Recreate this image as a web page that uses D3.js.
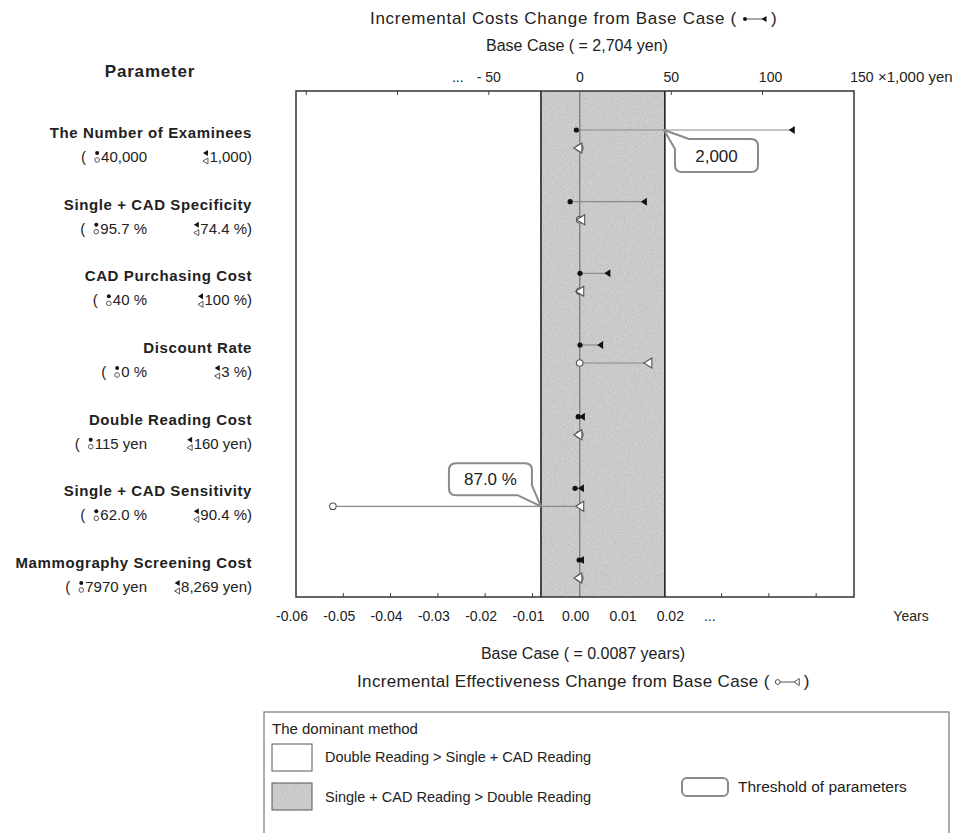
<!DOCTYPE html>
<html><head><meta charset="utf-8">
<script src="https://cdn.jsdelivr.net/npm/d3@7"></script>
<style>
body{margin:0;background:#fff;}
svg text{font-family:"Liberation Sans",Arial,sans-serif;fill:#222;}
</style></head>
<body><svg id="c" width="968" height="833"></svg>
<script>
// ---------- data ----------
const params = ["The Number of Examinees","Single + CAD Specificity","CAD Purchasing Cost","Discount Rate","Double Reading Cost","Single + CAD Sensitivity","Mammography Screening Cost"];
const lowLabels = ["40,000","95.7 %","40 %","0 %","115 yen","62.0 %","7970 yen"];
const highLabels = ["1,000)","74.4 %)","100 %)","3 %)","160 yen)","90.4 %)","8,269 yen)"];
// incremental cost change (x1,000 yen): low value (filled dot) / high value (filled triangle)
const costLow  = [-2, -5.4, 0, 0, -1, -2.7, -0.5];
const costHigh = [116, 35, 15, 11, 1, 0.5, 0.5];
// incremental effectiveness change (years): low value (open circle) / high value (open triangle)
const effLow  = [0, 0, 0, 0, 0, -0.0522, 0];
const effHigh = [-0.0004, 0.0002, 0, 0.0144, -0.0004, 0, -0.0004];
// dominance band (years) and threshold callouts
const bandRange = [-0.0082, 0.0180];
const costThreshold = {row:0, value:46, label:"2,000"};
const effThreshold = {row:5, value:-0.0082, label:"87.0 %"};
const effTicks = [-0.05,-0.04,-0.03,-0.02,-0.01,0.03,0.04,0.05];
const effTickLabels = [-0.06,-0.05,-0.04,-0.03,-0.02,-0.01,0.00,0.01,0.02];
const costTicks = [-150,-100,-50,50,100];
const costTickLabels = [-50,0,50,100,150];

// ---------- layout ----------
const svg = d3.select("#c");
const defs = svg.append("defs");
const flt = defs.append("filter").attr("id","noise").attr("x",0).attr("y",0).attr("width","100%").attr("height","100%");
flt.append("feTurbulence").attr("type","fractalNoise").attr("baseFrequency",1.1).attr("numOctaves",1).attr("seed",3).attr("result","n");
flt.append("feColorMatrix").attr("in","n").attr("type","matrix").attr("values","0 0 0 0 0.45  0 0 0 0 0.45  0 0 0 0 0.45  1.6 0 0 0 -0.6").attr("result","m");
flt.append("feComposite").attr("in","m").attr("in2","SourceGraphic").attr("operator","in");

const L=296, R=854, T=91, B=597;
const xEff = d3.scaleLinear().domain([-0.06,0.058]).range([L,R]);
const xCost = d3.scaleLinear().domain([-155.6,150.1]).range([L,R]);
const y = d3.scalePoint().domain(params).range([130,560]);
const effOff = 18;

function grayBox(x,yy,w,h){
  svg.append("rect").attr("x",x).attr("y",yy).attr("width",w).attr("height",h).attr("fill","#d0d0d0");
  svg.append("rect").attr("x",x).attr("y",yy).attr("width",w).attr("height",h).attr("fill","#d0d0d0").attr("filter","url(#noise)");
}
// band
grayBox(xEff(bandRange[0]),T,xEff(bandRange[1])-xEff(bandRange[0]),B-T);
// ticks (inward)
svg.selectAll(".bt").data(effTicks).join("line").attr("x1",d=>xEff(d)).attr("x2",d=>xEff(d)).attr("y1",B).attr("y2",B-4).attr("stroke","#444").attr("stroke-width",1);
svg.selectAll(".tt").data(costTicks).join("line").attr("x1",d=>xCost(d)).attr("x2",d=>xCost(d)).attr("y1",T).attr("y2",T+4).attr("stroke","#444").attr("stroke-width",1);
// zero line
svg.append("line").attr("x1",xEff(0)).attr("x2",xEff(0)).attr("y1",T).attr("y2",B).attr("stroke","#7a7a7a").attr("stroke-width",1.3);
// band borders
bandRange.forEach(v=>svg.append("line").attr("x1",xEff(v)).attr("x2",xEff(v)).attr("y1",T).attr("y2",B).attr("stroke","#222").attr("stroke-width",1.6));
// frame
svg.append("rect").attr("x",L).attr("y",T).attr("width",R-L).attr("height",B-T).attr("fill","none").attr("stroke","#333").attr("stroke-width",1.5);

// range lines
const g = svg.append("g");
params.forEach((p,i)=>{
  const yc=y(p), ye=y(p)+effOff;
  g.append("line").attr("x1",xCost(costLow[i])).attr("x2",xCost(costHigh[i])).attr("y1",yc).attr("y2",yc).attr("stroke","#8a8a8a").attr("stroke-width",1.2);
  g.append("line").attr("x1",xEff(effLow[i])).attr("x2",xEff(effHigh[i])).attr("y1",ye).attr("y2",ye).attr("stroke","#8a8a8a").attr("stroke-width",1.2);
});
function triL(x,yy,w,h){return `M${x-w/2},${yy} L${x+w/2},${yy-h/2} L${x+w/2},${yy+h/2} Z`;}
params.forEach((p,i)=>{
  const yc=y(p), ye=y(p)+effOff;
  // effectiveness
  g.append("circle").attr("cx",xEff(effLow[i])).attr("cy",ye).attr("r",3.3).attr("fill","#fff").attr("stroke","#555").attr("stroke-width",1.1);
  g.append("path").attr("d",triL(xEff(effHigh[i]),ye,8,10)).attr("fill","#fff").attr("stroke","#555").attr("stroke-width",1.1);
  // cost
  g.append("circle").attr("cx",xCost(costLow[i])).attr("cy",yc).attr("r",2.6).attr("fill","#111");
  g.append("path").attr("d",triL(xCost(costHigh[i]),yc,6,8)).attr("fill","#111");
});

// callouts
function callout(px,py,bx,by,w,h,label,tail){
  const r=7;
  let d;
  if(tail==="tl"){ // tail from top-left towards point
    d=`M${px},${py} L${bx+14},${by} L${bx+w-r},${by} Q${bx+w},${by} ${bx+w},${by+r} L${bx+w},${by+h-r} Q${bx+w},${by+h} ${bx+w-r},${by+h} L${bx+r},${by+h} Q${bx},${by+h} ${bx},${by+h-r} L${bx},${by+10} Z`;
  } else { // tail from bottom-right
    d=`M${px},${py} L${bx+w-14},${by+h} L${bx+r},${by+h} Q${bx},${by+h} ${bx},${by+h-r} L${bx},${by+r} Q${bx},${by} ${bx+r},${by} L${bx+w-r},${by} Q${bx+w},${by} ${bx+w},${by+r} L${bx+w},${by+h-10} Z`;
  }
  svg.append("path").attr("d",d).attr("fill","#fff").attr("stroke","#8a8a8a").attr("stroke-width",2).attr("stroke-linejoin","round");
  svg.append("text").attr("x",bx+w/2).attr("y",by+h/2+6).attr("text-anchor","middle").attr("font-size",17).text(label);
}
{
  const px=xCost(costThreshold.value), py=y(params[costThreshold.row]);
  callout(px,py,px+11,py+9,83,33,costThreshold.label,"tl");
  const qx=xEff(effThreshold.value), qy=y(params[effThreshold.row])+effOff;
  callout(qx,qy,qx-92,qy-43,83,32,effThreshold.label,"br");
}

// ---------- axis labels ----------
svg.selectAll(".bl").data(effTickLabels).join("text").attr("x",d=>xEff(d)-4).attr("y",621).attr("text-anchor","middle").attr("font-size",14).text(d=>d.toFixed(2));
svg.append("text").attr("x",xEff(0.0275)).attr("y",621).attr("text-anchor","middle").attr("font-size",14).text("...");
svg.append("text").attr("x",911).attr("y",621).attr("text-anchor","middle").attr("font-size",14).text("Years");
svg.selectAll(".tl").data(costTickLabels).join("text").attr("x",d=>xCost(d)+(d>=100?8:0)).attr("y",82).attr("text-anchor","middle").attr("font-size",14).text(d=>d<0?"- "+Math.abs(d):d);
svg.append("text").attr("x",xCost(-67)).attr("y",82).attr("text-anchor","middle").attr("font-size",14).attr("fill","#777").text("...");
svg.append("text").attr("x",878).attr("y",82).attr("font-size",15).text("×1,000 yen");

svg.append("text").attr("x",577).attr("y",51).attr("text-anchor","middle").attr("font-size",16).text("Base Case ( =  2,704 yen)");
svg.append("text").attr("x",583).attr("y",659).attr("text-anchor","middle").attr("font-size",16).text("Base Case ( = 0.0087 years)");

function titleWithGlyph(x,yy,label,kind,ls){
  const t=svg.append("text").attr("x",x).attr("y",yy).attr("font-size",17).attr("letter-spacing",ls).text(label+"  (");
  const w=t.node().getComputedTextLength();
  const gx=x+w+6, gy=yy-5;
  svg.append("line").attr("x1",gx+2).attr("x2",gx+20).attr("y1",gy).attr("y2",gy).attr("stroke","#555").attr("stroke-width",1);
  if(kind==="cost"){
    svg.append("circle").attr("cx",gx+2).attr("cy",gy).attr("r",2).attr("fill","#111");
    svg.append("path").attr("d",triL(gx+21,gy,5,6)).attr("fill","#111");
  } else {
    svg.append("circle").attr("cx",gx+2).attr("cy",gy).attr("r",2.4).attr("fill","#fff").attr("stroke","#555");
    svg.append("path").attr("d",triL(gx+21,gy,5,7)).attr("fill","#fff").attr("stroke","#555");
  }
  svg.append("text").attr("x",gx+28).attr("y",yy).attr("font-size",17).text(")");
}
titleWithGlyph(370,24,"Incremental Costs Change from Base Case","cost",0.7);
titleWithGlyph(357,687,"Incremental Effectiveness Change from Base Case","eff",0.35);

// ---------- parameter labels ----------
svg.append("text").attr("x",150).attr("y",77).attr("text-anchor","middle").attr("font-size",17).attr("font-weight","bold").attr("letter-spacing","0.8").text("Parameter");
function stack(x,yy,kind){
  if(kind==="dot"){
    svg.append("circle").attr("cx",x).attr("cy",yy-4).attr("r",2).attr("fill","#111");
    svg.append("circle").attr("cx",x).attr("cy",yy+3).attr("r",2.3).attr("fill","#fff").attr("stroke","#444").attr("stroke-width",0.9);
  } else {
    svg.append("path").attr("d",triL(x,yy-4,5,6)).attr("fill","#111");
    svg.append("path").attr("d",triL(x,yy+4,5,6)).attr("fill","#fff").attr("stroke","#444").attr("stroke-width",0.9);
  }
}
params.forEach((p,i)=>{
  const yc=y(p)+3;
  svg.append("text").attr("x",252).attr("y",yc+5).attr("text-anchor","end").attr("font-size",15).attr("font-weight","bold").attr("letter-spacing","0.6").text(p);
  const y2=yc+24;
  const hi=svg.append("text").attr("x",252).attr("y",y2+5).attr("text-anchor","end").attr("font-size",15).text(highLabels[i]);
  const hiStart=252-hi.node().getComputedTextLength();
  stack(hiStart-4,y2,"tri");
  const lowEnd=Math.min(147,hiStart-20);
  const lo=svg.append("text").attr("x",lowEnd).attr("y",y2+5).attr("text-anchor","end").attr("font-size",15).text(lowLabels[i]);
  const loStart=lowEnd-lo.node().getComputedTextLength();
  stack(loStart-4,y2,"dot");
  svg.append("text").attr("x",loStart-15).attr("y",y2+5).attr("text-anchor","end").attr("font-size",15).text("(");
});

// ---------- legend ----------
svg.append("rect").attr("x",264).attr("y",712).attr("width",685).attr("height",130).attr("fill","#fff").attr("stroke","#777").attr("stroke-width",1.2);
svg.append("text").attr("x",272).attr("y",734).attr("font-size",15).text("The dominant method");
svg.append("rect").attr("x",272).attr("y",744).attr("width",40).attr("height",27).attr("fill","#fff").attr("stroke","#555");
svg.append("text").attr("x",325).attr("y",762).attr("font-size",14.5).text("Double Reading > Single + CAD Reading");
grayBox(272,783,40,27);
svg.append("rect").attr("x",272).attr("y",783).attr("width",40).attr("height",27).attr("fill","none").attr("stroke","#555");
svg.append("text").attr("x",325).attr("y",802).attr("font-size",14.5).text("Single + CAD Reading > Double Reading");
svg.append("rect").attr("x",682).attr("y",778).attr("width",46).attr("height",18).attr("rx",5).attr("fill","#fff").attr("stroke","#8a8a8a").attr("stroke-width",2);
svg.append("text").attr("x",738).attr("y",792).attr("font-size",15.5).text("Threshold of parameters");
</script></body></html>
